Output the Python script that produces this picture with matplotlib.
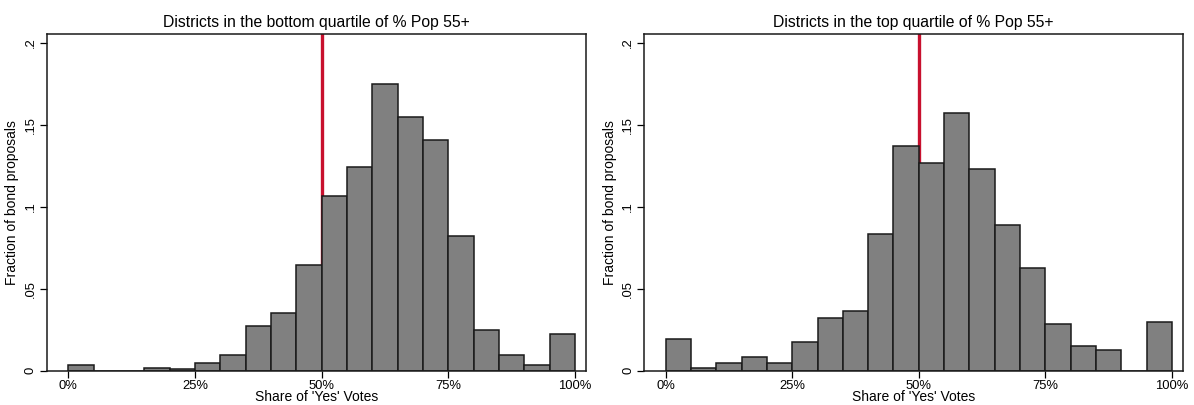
import numpy as np
import matplotlib
matplotlib.use("Agg")
from matplotlib import pyplot as plt

plt.rcParams['font.family'] = ['Liberation Sans', 'DejaVu Sans']

bin_edges = np.arange(0, 101, 5)

# fraction of proposals per 5-point bin of yes share
bottom_quartile = [0.0033, 0.0, 0.0, 0.0018, 0.0008, 0.0045, 0.0096, 0.0274,
                   0.0350, 0.0644, 0.1063, 0.1244, 0.1748, 0.1549, 0.1409,
                   0.0823, 0.0250, 0.0098, 0.0033, 0.0226]
top_quartile = [0.0191, 0.0018, 0.0049, 0.0085, 0.0049, 0.0177, 0.0323, 0.0362,
                0.0835, 0.1372, 0.1268, 0.1571, 0.1230, 0.0887, 0.0624,
                0.0283, 0.0152, 0.0126, 0.0, 0.0297]

titles = ["Districts in the bottom quartile of % Pop 55+",
          "Districts in the top quartile of % Pop 55+"]
x_ticks = [0, 25, 50, 75, 100]
x_ticklabels = ["0%", "25%", "50%", "75%", "100%"]
y_ticks = [0, 0.05, 0.1, 0.15, 0.2]
y_ticklabels = ["0", ".05", ".1", ".15", ".2"]


def draw_panel(ax, values, title):
    ax.axvline(50, color='#c8102e', lw=2.4, zorder=1)
    ax.bar(bin_edges[:-1], values, width=5, align='edge', color='#808080',
           edgecolor='#1a1a1a', linewidth=1.1, zorder=2)
    ax.set_xlim(-4.26, 102.1)
    ax.set_ylim(0, 0.2051)
    ax.set_xticks(x_ticks)
    ax.set_xticklabels(x_ticklabels)
    ax.set_yticks(y_ticks)
    ax.set_yticklabels(y_ticklabels, rotation=90, va='center')
    ax.tick_params(direction='out', length=5, width=0.9, labelsize=9.4, pad=2)
    for s in ax.spines.values():
        s.set_linewidth(1.1)
        s.set_color('#1a1a1a')
    ax.set_title(title, fontsize=11.3, pad=5)
    ax.set_xlabel("Share of 'Yes' Votes", fontsize=10, labelpad=-1.5)
    ax.set_ylabel("Fraction of bond proposals", fontsize=10, labelpad=4)


fig = plt.figure(figsize=(11.94, 4.05), dpi=100)
ax1 = fig.add_axes([0.0391, 0.0847, 0.4514, 0.8306])
ax2 = fig.add_axes([0.5394, 0.0847, 0.4511, 0.8306])
draw_panel(ax1, bottom_quartile, titles[0])
draw_panel(ax2, top_quartile, titles[1])

fig.savefig("out.png", dpi=100)
